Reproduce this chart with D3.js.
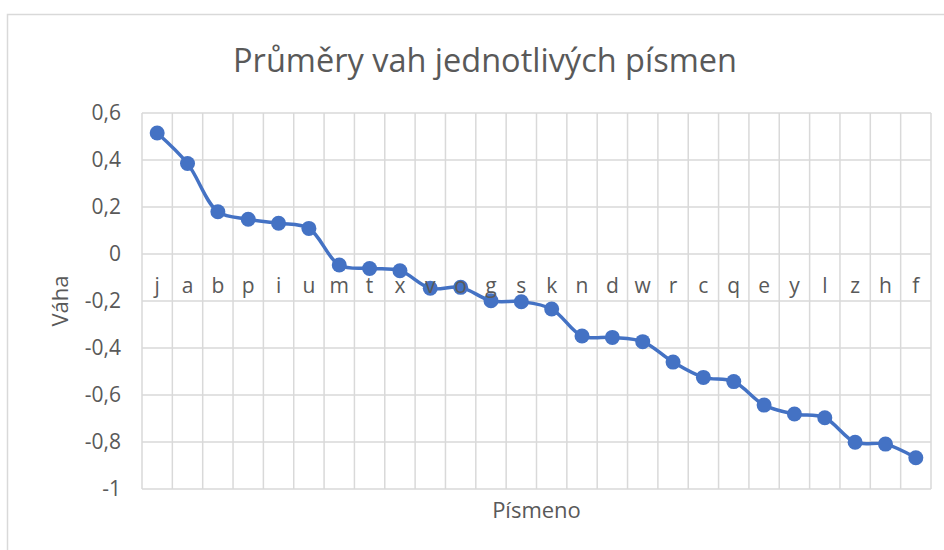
<!DOCTYPE html>
<html>
<head>
<meta charset="utf-8">
<script src="https://cdn.jsdelivr.net/npm/d3@7"></script>
<style>
  body { margin: 0; background: #fff; }
  text { font-family: "Open Sans", "Noto Sans", sans-serif; fill: #595959; }
</style>
</head>
<body>
<div id="chart"></div>
<script>
  // letters in the order shown on the x axis
  let letters = ["j","a","b","p","i","u","m","t","x","v","o","g","s","k","n","d","w","r","c","q","e","y","l","z","h","f"];
  // average weight of each letter
  let weights = [0.515, 0.385, 0.18, 0.148, 0.131, 0.109, -0.047, -0.062, -0.071, -0.146, -0.142, -0.199, -0.203,
                 -0.234, -0.349, -0.355, -0.373, -0.46, -0.525, -0.543, -0.643, -0.681, -0.697, -0.801, -0.809, -0.867];
  let yTicks = [0.6, 0.4, 0.2, 0, -0.2, -0.4, -0.6, -0.8, -1];

  let width = 944, height = 550;
  let margin = { top: 113, right: 13, bottom: 61, left: 142 };

  let svg = d3.select("#chart")
    .append("svg")
      .attr("width", width)
      .attr("height", height);

  // chart frame
  svg.append("path")
    .attr("d", "M7.5,560 L7.5,14.5 L950,14.5")
    .attr("fill", "none")
    .attr("stroke", "#d9d9d9")
    .attr("stroke-width", 1.5);

  let xScale = d3.scaleBand()
    .domain(letters)
    .range([margin.left, width - margin.right]);

  let yScale = d3.scaleLinear()
    .domain([-1, 0.6])
    .range([height - margin.bottom, margin.top]);

  // horizontal gridlines
  svg.append("g")
    .selectAll("line")
    .data(yTicks)
    .enter()
    .append("line")
      .attr("x1", margin.left)
      .attr("x2", width - margin.right)
      .attr("y1", d => yScale(d))
      .attr("y2", d => yScale(d))
      .attr("stroke", "#d9d9d9")
      .attr("stroke-width", 1.5);

  // vertical gridlines between categories
  let bounds = letters.map(d => xScale(d)).concat([width - margin.right]);
  svg.append("g")
    .selectAll("line")
    .data(bounds)
    .enter()
    .append("line")
      .attr("x1", d => d)
      .attr("x2", d => d)
      .attr("y1", yScale(0.6))
      .attr("y2", yScale(-1))
      .attr("stroke", "#d9d9d9")
      .attr("stroke-width", 1.5);

  // y axis tick labels
  let fmt = d => String(d).replace(".", ",");
  svg.append("g")
    .attr("transform", "translate(" + (margin.left - 21) + ",0)")
    .call(d3.axisLeft(yScale).tickValues(yTicks).tickFormat(fmt).tickSize(0).tickPadding(0))
    .call(g => g.select(".domain").remove())
    .attr("font-size", null)
    .attr("font-family", null)
    .selectAll("text")
      .style("font-size", "21px")
      .attr("fill", "#595959");

  // line
  let valueLine = d3.line()
    .x((d, i) => xScale(letters[i]) + xScale.bandwidth() / 2)
    .y(d => yScale(d))
    .curve(d3.curveCatmullRom.alpha(0.5));

  svg.append("path")
    .attr("d", valueLine(weights))
    .attr("fill", "none")
    .attr("stroke", "#4472c4")
    .attr("stroke-width", 3.5);

  svg.append("g")
    .selectAll("circle")
    .data(weights)
    .enter()
    .append("circle")
      .attr("cx", (d, i) => xScale(letters[i]) + xScale.bandwidth() / 2)
      .attr("cy", d => yScale(d))
      .attr("r", 7.5)
      .attr("fill", "#4472c4");

  // category labels just under the zero line, drawn over the line
  svg.append("g")
    .attr("transform", "translate(0," + yScale(0) + ")")
    .call(d3.axisBottom(xScale).tickSize(0).tickPadding(24))
    .call(g => g.select(".domain").remove())
    .attr("font-size", null)
    .attr("font-family", null)
    .selectAll("text")
      .style("font-size", "21px")
      .attr("fill", "#595959");

  // titles
  svg.append("text")
    .attr("x", 485)
    .attr("y", 72)
    .attr("text-anchor", "middle")
    .style("font-size", "32.5px")
    .text("Průměry vah jednotlivých písmen");

  svg.append("text")
    .attr("x", (margin.left + width - margin.right) / 2)
    .attr("y", 518)
    .attr("text-anchor", "middle")
    .style("font-size", "22px")
    .text("Písmeno");

  svg.append("text")
    .attr("transform", "translate(68," + yScale(-0.2) + ") rotate(-90)")
    .attr("text-anchor", "middle")
    .style("font-size", "22px")
    .text("Váha");
</script>
</body>
</html>
